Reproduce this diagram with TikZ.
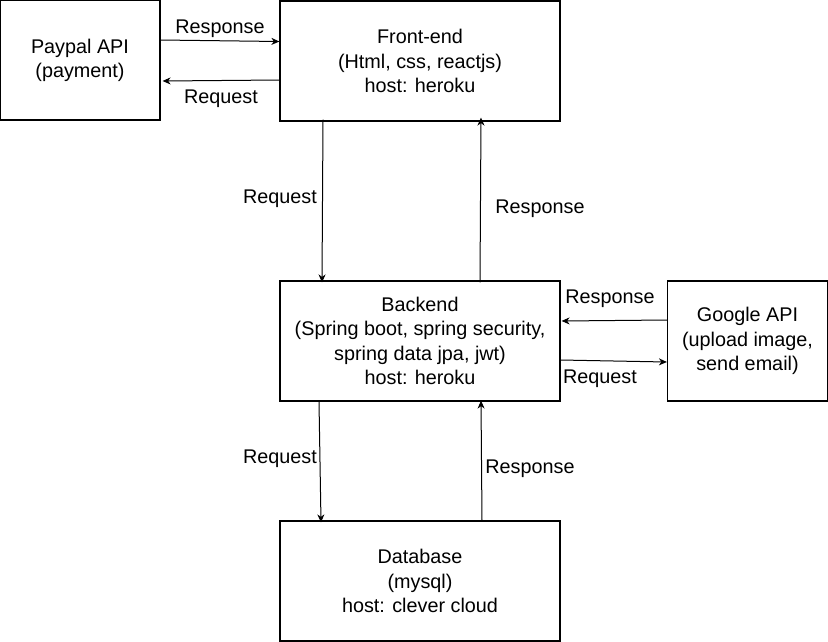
\documentclass[tikz,border=0pt]{standalone}
\usepackage{fontspec}
\setmainfont{Liberation Sans}
\usetikzlibrary{arrows.meta}
\begin{document}
\begin{tikzpicture}[x=1pt,y=-1pt,
  box/.style={draw,line width=1.2pt,minimum width=280pt,minimum height=120pt,inner sep=0pt,align=center,font=\fontsize{19.8}{24.2}\selectfont},
  sbox/.style={box,minimum width=160pt},
  conn/.style={line width=1pt,-{Stealth[length=8pt,width=7pt,inset=2.5pt]}},
  lbl/.style={font=\fontsize{19.8}{24}\selectfont,inner sep=1pt,yshift=-2.5pt}]
\useasboundingbox (0,0) rectangle (828,641);
\node[sbox] (pay) at (80,60) {Paypal API\\(payment)};
\node[box] (fe) at (420,61) {Front-end\\(Html, css, reactjs)\\host: heroku};
\node[box] (be) at (420,341) {Backend\\(Spring boot, spring security,\\spring data jpa, jwt)\\host: heroku};
\node[sbox] (gg) at (747.5,341) {Google API\\(upload image,\\send email)};
\node[box] (db) at (420,581) {Database\\(mysql)\\host: clever cloud};

\draw[conn] (pay.east |- 0,40) -- (fe.west |- 0,41.5);
\node[lbl] at (220,26) {Response};
\draw[conn] (fe.west |- 0,80) -- ([xshift=2pt]pay.east |- 0,81);
\node[lbl] at (221,96) {Request};

\draw[conn] ([yshift=2pt]fe.south -| 323,0) -- ([yshift=-2pt]be.north -| 322,0);
\node[lbl] at (280,196) {Request};
\draw[conn] ([yshift=-2pt]be.north -| 480,0) -- ([yshift=4pt]fe.south -| 481,0);
\node[lbl] at (540,206) {Response};

\draw[conn] (gg.west |- 0,320) -- ([xshift=1pt]be.east |- 0,321);
\node[lbl] at (610,296) {Response};
\draw[conn] (be.east |- 0,360) -- (gg.west |- 0,362);
\node[lbl] at (600,376) {Request};

\draw[conn] (be.south -| 319,0) -- ([yshift=-2pt]db.north -| 321,0);
\node[lbl] at (280,456) {Request};
\draw[conn] (db.north -| 482,0) -- ([yshift=1pt]be.south -| 481,0);
\node[lbl] at (530,466) {Response};
\end{tikzpicture}
\end{document}
